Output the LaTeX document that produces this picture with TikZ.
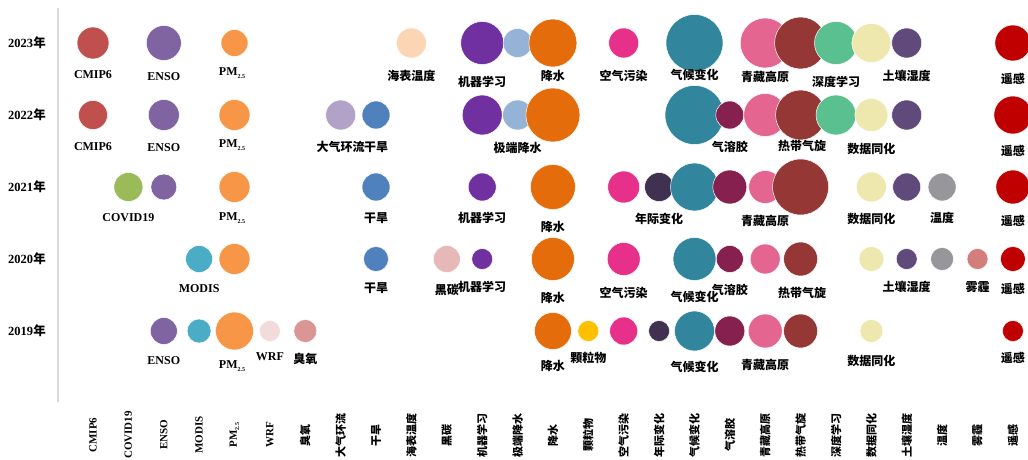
\documentclass[tikz,border=0pt]{standalone}
\usepackage{fontspec}
\setmainfont{Liberation Serif}
\newfontfamily\cjk{Noto Sans CJK SC}
\definecolor{cCMIP}{HTML}{C0504D}
\definecolor{cCOVID}{HTML}{9BBB59}
\definecolor{cENSO}{HTML}{8064A2}
\definecolor{cMODIS}{HTML}{4BACC6}
\definecolor{cPM}{HTML}{F79646}
\definecolor{cWRF}{HTML}{F2DCDB}
\definecolor{cO3}{HTML}{D99694}
\definecolor{cCirc}{HTML}{B3A2C7}
\definecolor{cDrought}{HTML}{4F81BD}
\definecolor{cSST}{HTML}{FCD5B5}
\definecolor{cBC}{HTML}{E6B9B8}
\definecolor{cML}{HTML}{7030A0}
\definecolor{cExt}{HTML}{95B3D7}
\definecolor{cPrec}{HTML}{E46C0A}
\definecolor{cPart}{HTML}{FFC000}
\definecolor{cAir}{HTML}{E6308A}
\definecolor{cIAV}{HTML}{403151}
\definecolor{cClim}{HTML}{31859C}
\definecolor{cAer}{HTML}{86204E}
\definecolor{cTib}{HTML}{E46690}
\definecolor{cTC}{HTML}{953735}
\definecolor{cDL}{HTML}{5BC08F}
\definecolor{cDA}{HTML}{EEE8AF}
\definecolor{cSoil}{HTML}{604A7B}
\definecolor{cTemp}{HTML}{97979B}
\definecolor{cHaze}{HTML}{D47E7B}
\definecolor{cRS}{HTML}{C00000}
\definecolor{axisgray}{HTML}{D9D9D9}
\newcommand\pmlab{PM\raisebox{-0.45ex}{\fontsize{6}{6}\selectfont 2.5}}
\newcommand\bb[5]{\node[bub,fill=#5,minimum size=#4pt] (#1) at (#2,#3) {};}
\newcommand\lb[4]{\node[lab] (#1) at (#2,#3) {#4};}
\newcommand\lz[4]{\node[clab] (#1) at (#2,#3) {#4};}
\newcommand\ax[3]{\node[axlab] (#1) at (#2,435) {#3};}
\newcommand\az[3]{\node[caxlab] (#1) at (#2,435) {#3};}
\tikzset{
  bub/.style={circle,inner sep=0pt,draw=white,line width=0.5pt},
  lab/.style={inner sep=0pt,font=\bfseries\fontsize{12}{12}\selectfont},
  clab/.style={inner sep=0pt,font=\cjk\bfseries\fontsize{12}{12}\selectfont},
  axlab/.style={inner sep=0pt,rotate=90,font=\bfseries\fontsize{11}{11}\selectfont},
  caxlab/.style={inner sep=0pt,rotate=90,font=\cjk\bfseries\fontsize{11}{11}\selectfont},
  ylab/.style={inner sep=0pt,font=\bfseries\fontsize{12.5}{12.5}\selectfont},
  axisline/.style={draw=axisgray,line width=1.5pt}
}
\begin{document}
\begin{tikzpicture}[x=1pt,y=-1pt]
\fill[white] (0,0) rectangle (1028,460);
\useasboundingbox (0,0) rectangle (1028,460);
% axis
\coordinate (axtop) at (58,8);
\coordinate (axbot) at (58,402);
\draw[axisline] (axtop) -- (axbot);
% year labels
\node[ylab] (y23) at (27,43) {2023{\cjk 年}};
\node[ylab] (y22) at (27,115) {2022{\cjk 年}};
\node[ylab] (y21) at (27,187) {2021{\cjk 年}};
\node[ylab] (y20) at (27,259) {2020{\cjk 年}};
\node[ylab] (y19) at (27,331) {2019{\cjk 年}};
% ---------- 2023
\bb{a1}{93}{43}{32}{cCMIP}
\bb{a2}{163.8}{43}{35}{cENSO}
\bb{a3}{234.5}{43}{27}{cPM}
\bb{a4}{411.4}{43}{30}{cSST}
\bb{a5}{482.2}{43}{43}{cML}
\bb{a6}{517.6}{43}{29}{cExt}
\bb{a7}{552.9}{43}{48}{cPrec}
\bb{a8}{623.7}{43}{30}{cAir}
\bb{a9}{694.5}{43}{57}{cClim}
\bb{a10}{765.2}{43}{50}{cTib}
\bb{a11}{800.6}{43}{52}{cTC}
\bb{a12}{836}{43}{43}{cDL}
\bb{a13}{871.4}{43}{39}{cDA}
\bb{a14}{906.7}{43}{30}{cSoil}
\bb{a15}{1012.9}{43}{36}{cRS}
% ---------- 2022
\bb{b1}{93}{115}{29}{cCMIP}
\bb{b2}{163.8}{115}{31}{cENSO}
\bb{b3}{234.5}{115}{31}{cPM}
\bb{b4}{340.7}{115}{30}{cCirc}
\bb{b5}{376}{115}{28}{cDrought}
\bb{b6}{482.2}{115}{40}{cML}
\bb{b7}{517.6}{115}{30}{cExt}
\bb{b8}{552.9}{115}{54}{cPrec}
\bb{b9}{694.5}{115}{59}{cClim}
\bb{b10}{729.8}{115}{28}{cAer}
\bb{b11}{765.2}{115}{43}{cTib}
\bb{b12}{800.6}{115}{50}{cTC}
\bb{b13}{836}{115}{40}{cDL}
\bb{b14}{871.4}{115}{33}{cDA}
\bb{b15}{906.7}{115}{30}{cSoil}
\bb{b16}{1012.9}{115}{38}{cRS}
% ---------- 2021
\bb{c1}{128.4}{187}{29}{cCOVID}
\bb{c2}{163.8}{187}{26}{cENSO}
\bb{c3}{234.5}{187}{31}{cPM}
\bb{c4}{376}{187}{28}{cDrought}
\bb{c5}{482.2}{187}{28}{cML}
\bb{c6}{552.9}{187}{45}{cPrec}
\bb{c7}{623.7}{187}{32}{cAir}
\bb{c8}{659.1}{187}{29}{cIAV}
\bb{c9}{694.5}{187}{48}{cClim}
\bb{c10}{729.8}{187}{34}{cAer}
\bb{c11}{765.2}{187}{33}{cTib}
\bb{c12}{800.6}{187}{56}{cTC}
\bb{c13}{871.4}{187}{30}{cDA}
\bb{c14}{906.7}{187}{28}{cSoil}
\bb{c15}{942.1}{187}{28}{cTemp}
\bb{c16}{1012.9}{187}{34}{cRS}
% ---------- 2020
\bb{d1}{199.1}{259}{27}{cMODIS}
\bb{d2}{234.5}{259}{31}{cPM}
\bb{d3}{376}{259}{25}{cDrought}
\bb{d4}{446.8}{259}{27}{cBC}
\bb{d5}{482.2}{259}{21}{cML}
\bb{d6}{552.9}{259}{43}{cPrec}
\bb{d7}{623.7}{259}{33}{cAir}
\bb{d8}{694.5}{259}{43}{cClim}
\bb{d9}{729.8}{259}{27}{cAer}
\bb{d10}{765.2}{259}{30}{cTib}
\bb{d11}{800.6}{259}{34}{cTC}
\bb{d12}{871.4}{259}{25}{cDA}
\bb{d13}{906.7}{259}{21}{cSoil}
\bb{d14}{942.1}{259}{23}{cTemp}
\bb{d15}{977.5}{259}{21}{cHaze}
\bb{d16}{1012.9}{259}{25}{cRS}
% ---------- 2019
\bb{e1}{163.8}{331}{27}{cENSO}
\bb{e2}{199.1}{331}{24}{cMODIS}
\bb{e3}{234.5}{331}{38}{cPM}
\bb{e4}{269.9}{331}{21}{cWRF}
\bb{e5}{305.3}{331}{23}{cO3}
\bb{e6}{552.9}{331}{37}{cPrec}
\bb{e7}{588.3}{331}{21}{cPart}
\bb{e8}{623.7}{331}{28}{cAir}
\bb{e9}{659.1}{331}{21}{cIAV}
\bb{e10}{694.5}{331}{40}{cClim}
\bb{e11}{729.8}{331}{30}{cAer}
\bb{e12}{765.2}{331}{34}{cTib}
\bb{e13}{800.6}{331}{34}{cTC}
\bb{e14}{871.4}{331}{23}{cDA}
\bb{e15}{1012.9}{331}{21}{cRS}
% ---------- labels 2023
\lb{la1}{93}{75}{CMIP6}
\lb{la2}{163.8}{77}{ENSO}
\lb{la3}{232}{73}{\pmlab}
\lz{la4}{411.4}{76}{海表温度}
\lz{la5}{482.2}{82}{机器学习}
\lz{la7}{552.9}{76}{降水}
\lz{la8}{623.7}{76}{空气污染}
\lz{la9}{694.5}{75}{气候变化}
\lz{la10}{765.2}{77}{青藏高原}
\lz{la12}{836}{82}{深度学习}
\lz{la14}{906.7}{76}{土壤湿度}
\lz{la15}{1012.9}{79}{遥感}
% ---------- labels 2022
\lb{lb1}{93}{147}{CMIP6}
\lb{lb2}{163.8}{148}{ENSO}
\lb{lb3}{232}{145}{\pmlab}
\lz{lb4}{340.7}{147}{大气环流}
\lz{lb5}{376}{147}{干旱}
\lz{lb7}{517.6}{148}{极端降水}
\lz{lb10}{729.8}{147}{气溶胶}
\lz{lb12}{802}{146}{热带气旋}
\lz{lb14}{871.4}{149}{数据同化}
\lz{lb16}{1012.9}{151}{遥感}
% ---------- labels 2021
\lb{lc1}{128.4}{218}{COVID19}
\lb{lc3}{232}{218}{\pmlab}
\lz{lc4}{376}{218}{干旱}
\lz{lc5}{482.2}{218}{机器学习}
\lz{lc6}{552.9}{227}{降水}
\lz{lc8}{659.1}{219}{年际变化}
\lz{lc11}{765.2}{221}{青藏高原}
\lz{lc13}{871.4}{219}{数据同化}
\lz{lc15}{942.1}{218}{温度}
\lz{lc16}{1012.9}{221}{遥感}
% ---------- labels 2020
\lb{ld1}{199.1}{289}{MODIS}
\lz{ld3}{376}{288}{干旱}
\lz{ld4}{446.8}{290}{黑碳}
\lz{ld5}{482.2}{287}{机器学习}
\lz{ld6}{552.9}{298}{降水}
\lz{ld7}{623.7}{293}{空气污染}
\lz{ld8}{694.5}{297}{气候变化}
\lz{ld9}{729.8}{290}{气溶胶}
\lz{ld11}{802}{293}{热带气旋}
\lz{ld13}{906.7}{287}{土壤湿度}
\lz{ld15}{977.5}{287}{雾霾}
\lz{ld16}{1012.9}{289}{遥感}
% ---------- labels 2019
\lb{le1}{163.8}{361}{ENSO}
\lb{le3}{232}{366}{\pmlab}
\lb{le4}{269.9}{357}{WRF}
\lz{le5}{305.3}{359}{臭氧}
\lz{le6}{552.9}{366}{降水}
\lz{le7}{588.3}{358}{颗粒物}
\lz{le10}{694.5}{367}{气候变化}
\lz{le12}{765.2}{365}{青藏高原}
\lz{le14}{871.4}{361}{数据同化}
\lz{le15}{1012.9}{358}{遥感}
% ---------- category axis
\ax{x0}{93}{CMIP6}
\ax{x1}{128.4}{COVID19}
\ax{x2}{163.8}{ENSO}
\ax{x3}{199.1}{MODIS}
\ax{x4}{234.5}{\pmlab}
\ax{x5}{269.9}{WRF}
\az{x6}{305.3}{臭氧}
\az{x7}{340.7}{大气环流}
\az{x8}{376}{干旱}
\az{x9}{411.4}{海表温度}
\az{x10}{446.8}{黑碳}
\az{x11}{482.2}{机器学习}
\az{x12}{517.6}{极端降水}
\az{x13}{552.9}{降水}
\az{x14}{588.3}{颗粒物}
\az{x15}{623.7}{空气污染}
\az{x16}{659.1}{年际变化}
\az{x17}{694.5}{气候变化}
\az{x18}{729.8}{气溶胶}
\az{x19}{765.2}{青藏高原}
\az{x20}{800.6}{热带气旋}
\az{x21}{836}{深度学习}
\az{x22}{871.4}{数据同化}
\az{x23}{906.7}{土壤湿度}
\az{x24}{942.1}{温度}
\az{x25}{977.5}{雾霾}
\az{x26}{1012.9}{遥感}
\end{tikzpicture}
\end{document}
